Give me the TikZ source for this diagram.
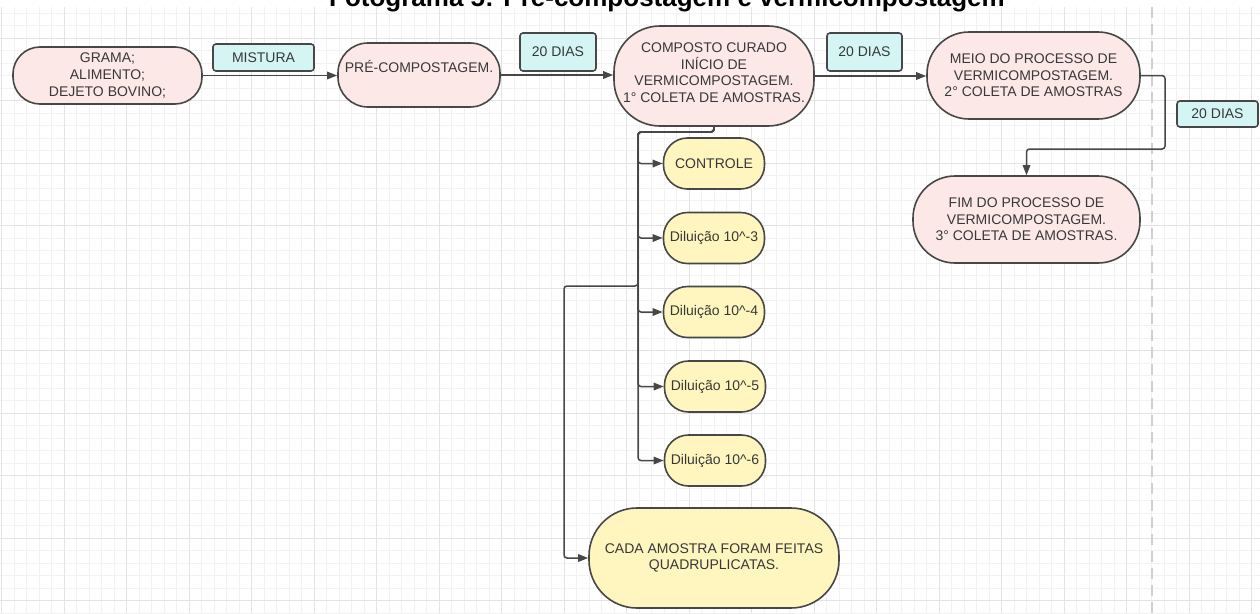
\documentclass[tikz,border=0pt]{standalone}
\usepackage{fontspec}
\setmainfont{Liberation Sans}
\usetikzlibrary{arrows.meta}
\definecolor{pinkfill}{HTML}{FDE8E8}
\definecolor{yelfill}{HTML}{FEF6BE}
\definecolor{cyanfill}{HTML}{D5F5F5}
\definecolor{edgec}{HTML}{474747}
\definecolor{txtc}{HTML}{383838}
\definecolor{gridminor}{HTML}{F2F2F2}
\definecolor{gridmajor}{HTML}{E3E3E3}
\definecolor{dashc}{HTML}{D0D0D0}
\begin{document}
\begin{tikzpicture}[x=1pt,y=-1pt,
  stad/.style={draw=edgec, line width=1.6pt, text=txtc, align=center,
    font=\fontsize{14}{16.6}\selectfont, inner sep=0pt},
  pinkbox/.style={stad, fill=pinkfill},
  yelbox/.style={stad, fill=yelfill, minimum width=101pt, minimum height=51pt, rounded corners=24pt},
  tagbox/.style={draw=edgec, line width=1.6pt, fill=cyanfill, rounded corners=3pt, text=txtc,
    font=\fontsize{14}{16}\selectfont, inner sep=0pt},
  conn/.style={draw=edgec, line width=1.5pt, -{Triangle[length=10pt,width=7.5pt]}, rounded corners=3pt},
]
\fill[white] (0,0) rectangle (1260,613);
\useasboundingbox (0,0) rectangle (1260,613);
% grid
\foreach \i in {0,...,100} {
  \draw[gridminor, line width=0.6pt] ({1.5+12.5*\i},7) -- ({1.5+12.5*\i},613);
}
\foreach \j in {1,...,49} {
  \draw[gridminor, line width=0.6pt] (0,{0.5+12.5*\j}) -- (1260,{0.5+12.5*\j});
}
\foreach \i in {0,...,20} {
  \draw[gridmajor, line width=0.7pt] ({1.5+62.5*\i},7) -- ({1.5+62.5*\i},613);
}
\foreach \j in {0,...,9} {
  \draw[gridmajor, line width=0.7pt] (0,{38+62.5*\j}) -- (1260,{38+62.5*\j});
}
\draw[dashc, line width=1.6pt, dash pattern=on 11pt off 6pt] (1152,7) -- (1152,613);

% title (cut at the top, as in the reference)
\node[font=\fontsize{26}{30}\selectfont\bfseries, anchor=base, text=black, inner sep=0pt] (title) at (667,6.5)
  {Fotograma 5: Pré-compostagem e vermicompostagem};

% main row
\node[pinkbox, minimum width=189pt, minimum height=57pt, rounded corners=27pt] (gr) at (107.5,75.5)
  {GRAMA;\\ALIMENTO;\\DEJETO BOVINO;};
\node[tagbox, minimum width=101pt, minimum height=27pt] (mist) at (263.5,57.5) {MISTURA};
\node[pinkbox, minimum width=162pt, minimum height=64pt, rounded corners=30pt, text height=10pt, text depth=16pt] (pre) at (419,75)
  {PRÉ-COMPOSTAGEM.};
\node[tagbox, minimum width=76pt, minimum height=38pt] (d1) at (558,52) {20 DIAS};
\node[pinkbox, minimum width=200pt, minimum height=100pt, rounded corners=46pt, text depth=7pt] (comp) at (714,76)
  {COMPOSTO CURADO\\INÍCIO DE\\VERMICOMPOSTAGEM.\\1° COLETA DE AMOSTRAS.};
\node[tagbox, minimum width=75pt, minimum height=38pt] (d2) at (864.5,52) {20 DIAS};
\node[pinkbox, minimum width=213pt, minimum height=87pt, rounded corners=42pt] (meio) at (1033.5,75.5)
  {MEIO DO PROCESSO DE\\VERMICOMPOSTAGEM.\\2° COLETA DE AMOSTRAS};
\node[tagbox, minimum width=81pt, minimum height=26pt] (d3) at (1217.5,114) {20 DIAS};
\node[pinkbox, minimum width=227pt, minimum height=87pt, rounded corners=42pt] (fim) at (1026.5,219.5)
  {FIM DO PROCESSO DE\\VERMICOMPOSTAGEM.\\3° COLETA DE AMOSTRAS.};

% yellow column
\node[yelbox] (ctrl) at (714,163.5) {CONTROLE};
\node[yelbox] (dil3) at (714,238) {Diluição 10\textasciicircum-3};
\node[yelbox] (dil4) at (714,312) {Diluição 10\textasciicircum-4};
\node[yelbox] (dil5) at (715,386.5) {Diluição 10\textasciicircum-5};
\node[yelbox] (dil6) at (715,460.5) {Diluição 10\textasciicircum-6};
\node[stad, fill=yelfill, minimum width=250pt, minimum height=100pt, rounded corners=48pt] (cada) at (714,558)
  {CADA AMOSTRA FORAM FEITAS\\QUADRUPLICATAS.};

% connectors
\draw[conn] (gr.east) -- (gr.east -| pre.west);
\draw[conn] (pre.east) -- (pre.east -| comp.west);
\draw[conn] (comp.east) -- (comp.east -| meio.west);
\coordinate (m1) at (1165,149);
\draw[conn] (meio.east) -| (m1) -| (fim.north);

\coordinate (b0) at (638,132);
\coordinate (c1) at (564,286);
\draw[conn] (comp.south) |- (b0) |- (c1) |- (cada.west);
\draw[conn] (comp.south) |- (b0) |- (dil6.west);
\draw[conn] (comp.south) |- (b0) |- (dil5.west);
\draw[conn] (comp.south) |- (b0) |- (dil4.west);
\draw[conn] (comp.south) |- (b0) |- (dil3.west);
\draw[conn] (comp.south) |- (b0) |- (ctrl.west);
\end{tikzpicture}
\end{document}
